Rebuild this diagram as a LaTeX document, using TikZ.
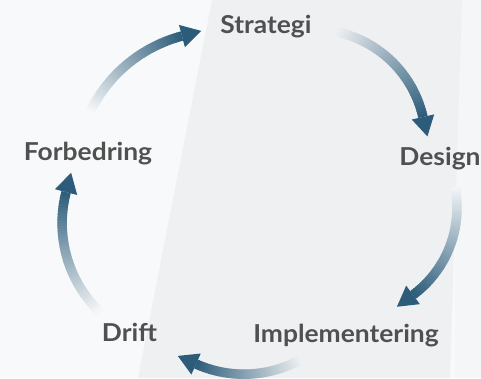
\documentclass[tikz,border=0pt]{standalone}
\usepackage{fontspec}
\setmainfont{Lato}
\newfontfamily\labelfont[FakeStretch=1.07]{Lato}
\usetikzlibrary{calc}
\definecolor{arrowblue}{HTML}{2C5C7A}
\definecolor{labelgray}{HTML}{505050}
\definecolor{bgleft}{HTML}{F8F9FA}
\definecolor{bgband}{HTML}{EEF0F2}
\definecolor{bgright}{HTML}{F4F6F8}
\tikzset{
  shaft/.style={line width=7.1pt, line cap=butt},
  lbl/.style={anchor=base, inner sep=0pt, text=labelgray,
    font=\labelfont\fontsize{18.5pt}{21pt}\selectfont\bfseries}
}
% #1,#2 centre, #3 radius, #4 start angle, #5 end angle (clockwise), #6 start colour
\newcommand{\gradarc}[6]{%
  \foreach \i in {0,...,49}{%
    \pgfmathsetmacro{\sa}{#4+(#5-#4)*\i/50}%
    \pgfmathsetmacro{\ea}{\i==49 ? #5 : #4+(#5-#4)*(\i+1.4)/50}%
    \pgfmathsetmacro{\p}{100*(\i+0.5)/50}%
    \draw[shaft, draw=arrowblue!\p!#6] (#1,#2) ++(\sa:#3) arc[start angle=\sa, end angle=\ea, radius=#3];
  }%
  \pgfmathsetmacro{\ro}{#3+11.5}%
  \pgfmathsetmacro{\ri}{#3-11.5}%
  \pgfmathsetmacro{\tx}{#1+#3*cos(#5)+20*sin(#5)}%
  \pgfmathsetmacro{\ty}{#2+#3*sin(#5)-20*cos(#5)}%
  \fill[arrowblue] (\tx,\ty) -- ($(#1,#2)+(#5:\ro)$) -- ($(#1,#2)+(#5:\ri)$) -- cycle;
}
\begin{document}
\begin{tikzpicture}[x=0.75pt, y=0.75pt]
\useasboundingbox (0,0) rectangle (481,-378);
\clip (0,0) rectangle (481,-378);
% background
\fill[bgleft] (0,0) rectangle (481,-378);
\fill[bgright] (455,0) rectangle (481,-378);
\fill[bgband] (212,0) -- (462,0) -- (450,-378) -- (138,-378) -- cycle;
% labels
\node[lbl] (strategi) at (266,-34) {Strategi};
\node[lbl] (design) at (440,-165) {Design};
\node[lbl] (impl) at (346,-342) {Implementering};
\node[lbl] (drift) at (129.5,-341) {Drift};
\node[lbl] (forbedring) at (88,-160) {Forbedring};
% cycle arrows
\gradarc{218.3}{-173.7}{142.4}{154.3}{104.8}{bgleft}
\gradarc{313.2}{-142.1}{112.6}{77.8}{12.9}{bgband}
\gradarc{348.8}{-207.8}{108.2}{11.1}{-53.6}{bgright}
\gradarc{243.9}{-256.6}{117.6}{-61.5}{-114.0}{bgband}
\gradarc{185.5}{-223.2}{123.4}{226.1}{165.4}{bgleft}
\end{tikzpicture}
\end{document}
